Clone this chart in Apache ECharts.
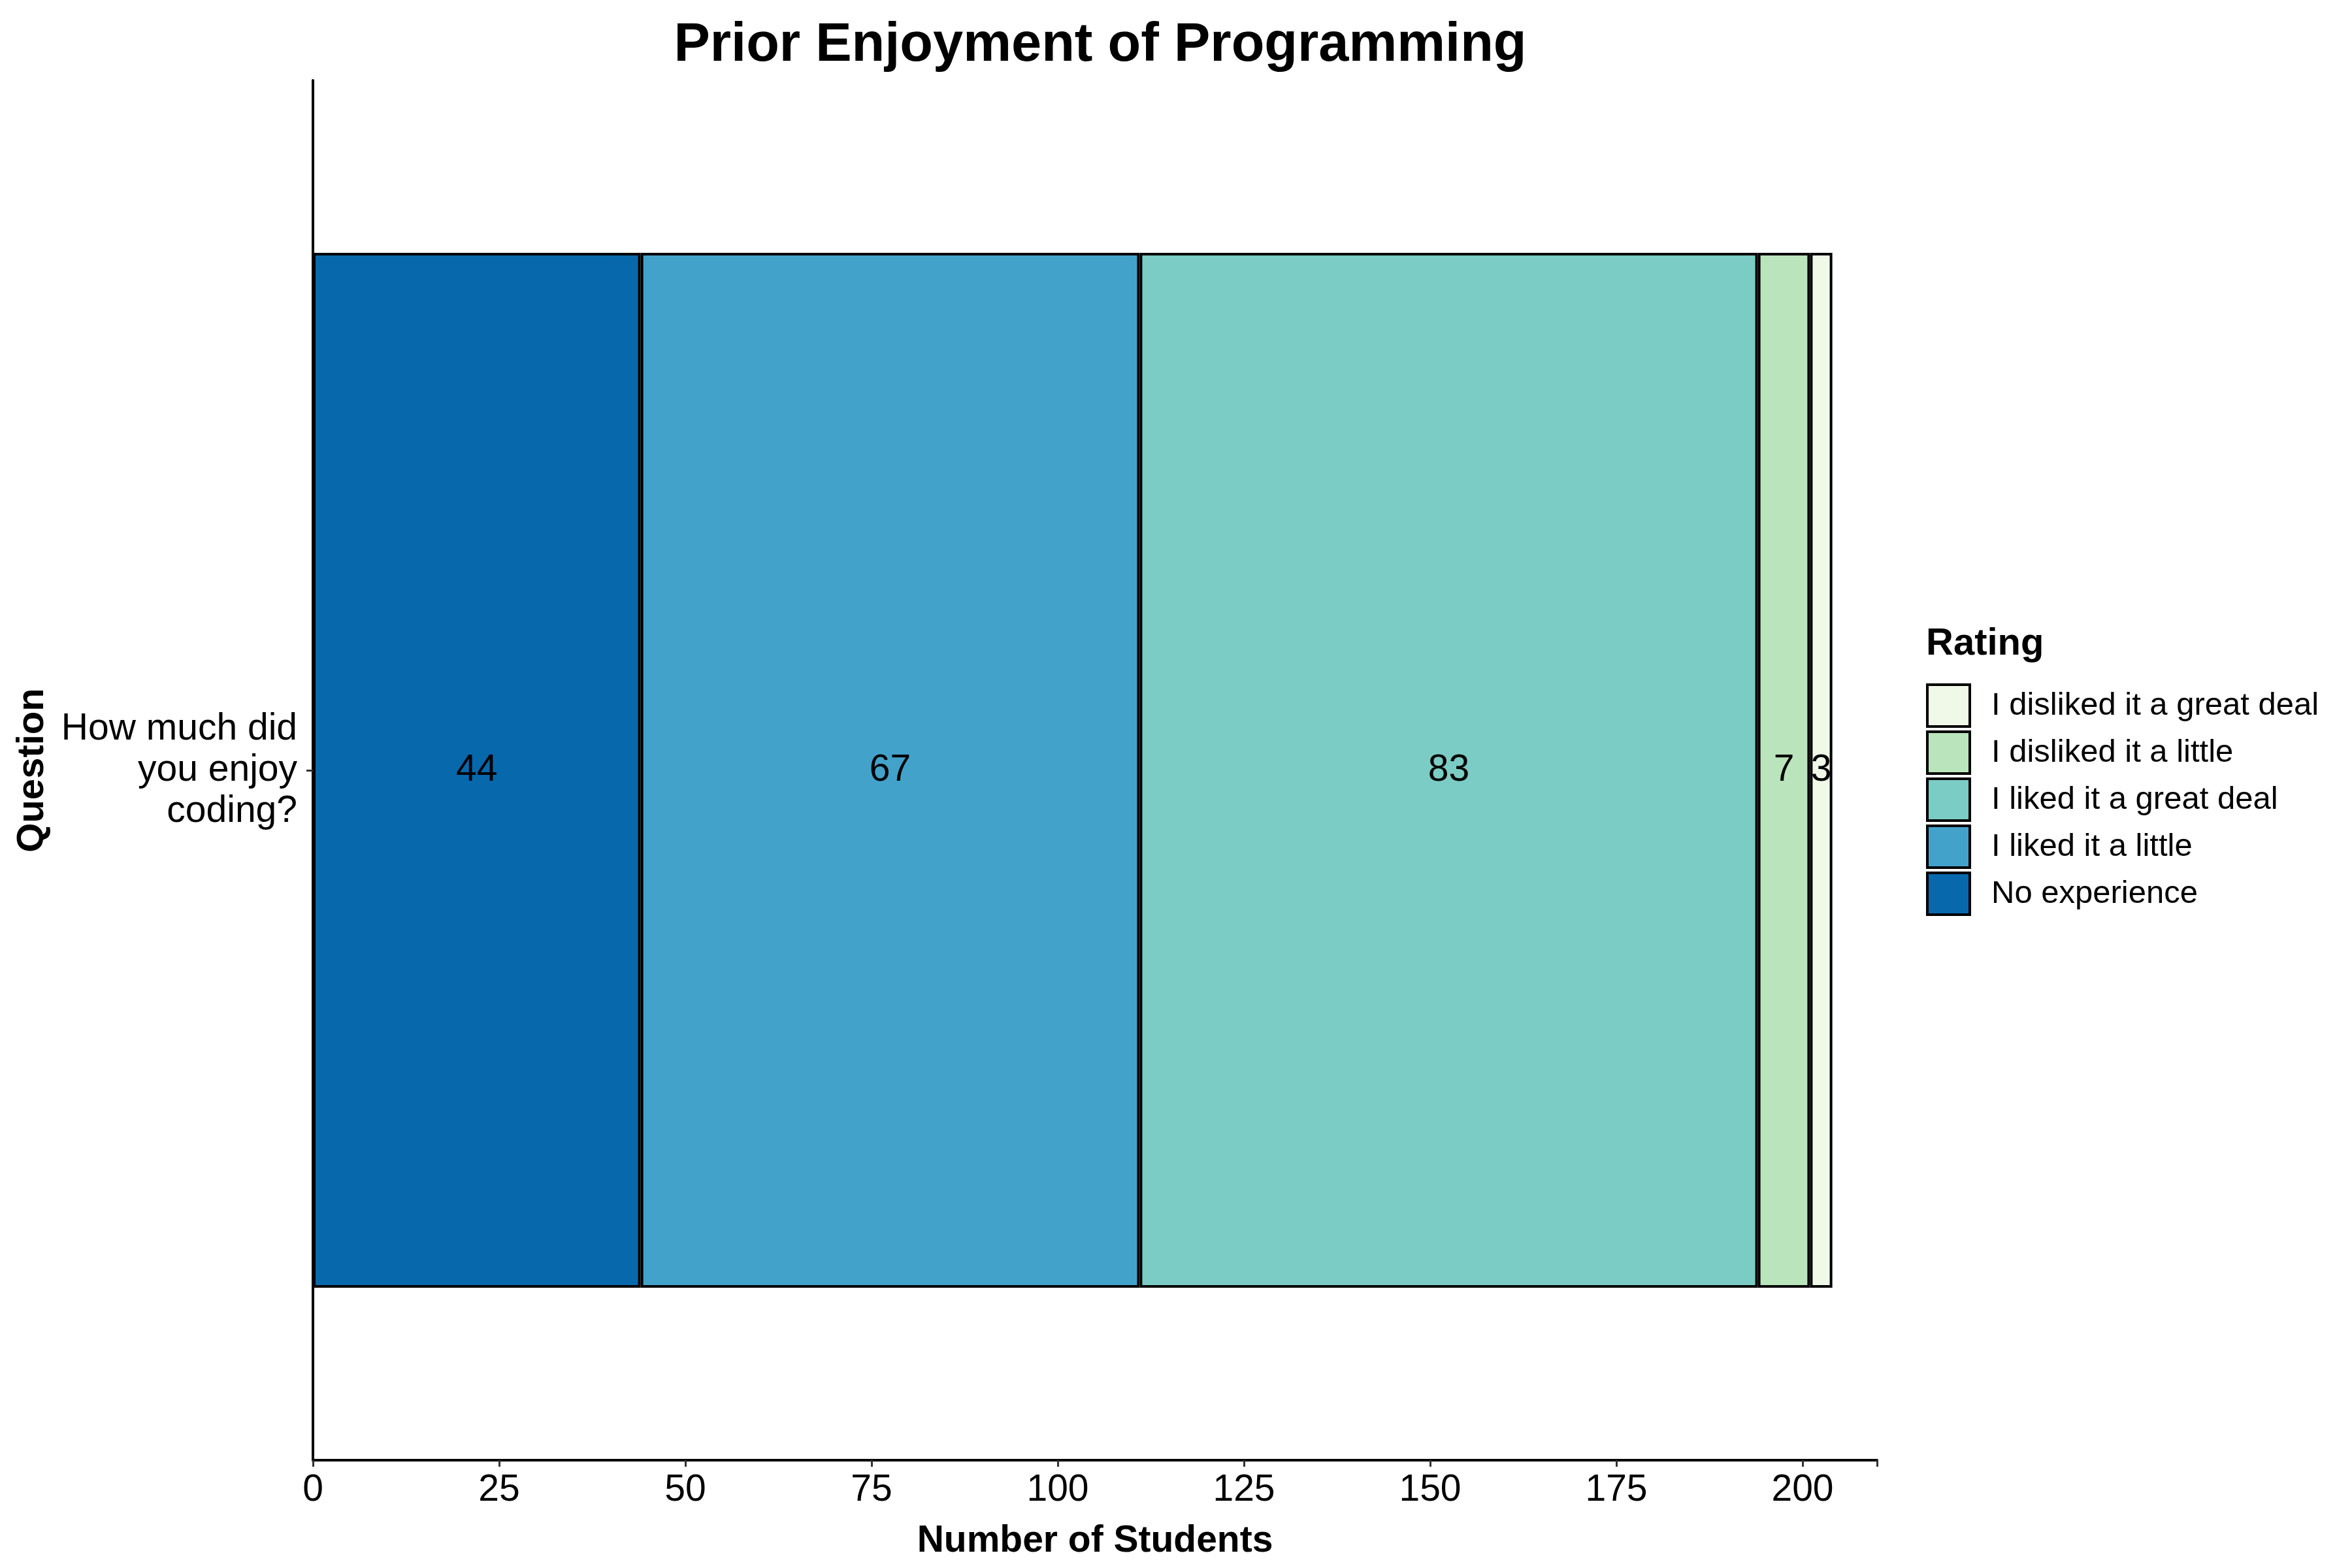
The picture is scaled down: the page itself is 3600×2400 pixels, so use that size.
<!DOCTYPE html>
<html>
<head>
<meta charset="utf-8">
<script src="https://cdn.jsdelivr.net/npm/echarts@6/dist/echarts.min.js"></script>
<style>
html,body{margin:0;padding:0;background:#fff;}
#chart{width:3600px;height:2400px;}
</style>
</head>
<body>
<div id="chart"></div>
<script>
// data
var questions = ["How much did\nyou enjoy\ncoding?"];
var ratings = ["No experience", "I liked it a little", "I liked it a great deal", "I disliked it a little", "I disliked it a great deal"];
var counts = [44, 67, 83, 7, 3];
var xTicks = [0, 25, 50, 75, 100, 125, 150, 175, 200];
var legendOrder = ["I disliked it a great deal", "I disliked it a little", "I liked it a great deal", "I liked it a little", "No experience"];

// GnBu palette, same order as ratings
var fills = ["#0868AC", "#43A2CA", "#7BCCC4", "#BAE4BC", "#F0F9E8"];
var font = "Liberation Sans";

var series = [];
for (var i = 0; i < ratings.length; i++) {
    series.push({
        name: ratings[i],
        type: "bar",
        stack: "all",
        barWidth: "75%",
        data: [counts[i]],
        itemStyle: {color: fills[i], borderColor: "#000", borderWidth: 4},
        label: {
            show: true,
            position: "inside",
            color: "#000",
            fontFamily: font,
            fontSize: 57,
            formatter: "{c}"
        }
    });
}

var myChart = echarts.init(document.getElementById("chart"), null, {renderer: "canvas"});
myChart.setOption({
    backgroundColor: "#fff",
    animation: false,
    textStyle: {fontFamily: font},
    title: [{
        text: "Prior Enjoyment of Programming",
        left: 1679,
        top: 24,
        textAlign: "center",
        textStyle: {fontFamily: font, fontSize: 83, fontWeight: "bold", color: "#000"}
    }, {
        text: "Rating",
        left: 2943,
        top: 952,
        textStyle: {fontFamily: font, fontSize: 58, fontWeight: "bold", color: "#000"}
    }],
    legend: {
        orient: "vertical",
        left: 2943,
        top: 1041,
        data: legendOrder,
        icon: "rect",
        itemWidth: 65,
        itemHeight: 64,
        itemGap: 4,
        selectedMode: false,
        itemStyle: {borderColor: "#000", borderWidth: 4},
        textStyle: {fontFamily: font, fontSize: 49, color: "#000", padding: [0, 0, 0, 28]}
    },
    grid: {left: 479, right: 727, top: 123, bottom: 165, containLabel: false},
    xAxis: {
        type: "value",
        min: 0,
        max: 210,
        interval: 25,
        name: "Number of Students",
        nameLocation: "middle",
        nameGap: 96,
        nameTextStyle: {fontFamily: font, fontSize: 57, fontWeight: "bold", color: "#000"},
        axisLine: {show: true, lineStyle: {color: "#000", width: 4}},
        axisTick: {show: true, length: 10, lineStyle: {color: "#333", width: 3}},
        axisLabel: {
            fontFamily: font, fontSize: 57, color: "#000", margin: 18,
            formatter: function (v) { return xTicks.indexOf(v) >= 0 ? String(v) : ""; }
        },
        splitLine: {show: false}
    },
    yAxis: {
        type: "category",
        data: questions,
        name: "Question",
        nameLocation: "middle",
        nameRotate: 90,
        nameGap: 400,
        nameTextStyle: {fontFamily: font, fontSize: 58, fontWeight: "bold", color: "#000"},
        axisLine: {show: true, lineStyle: {color: "#000", width: 4}},
        axisTick: {show: true, alignWithLabel: true, length: 10, lineStyle: {color: "#333", width: 3}},
        axisLabel: {
            fontFamily: font, fontSize: 57, lineHeight: 63, color: "#000", margin: 24, align: "right"
        },
        splitLine: {show: false}
    },
    series: series
});
</script>
</body>
</html>
